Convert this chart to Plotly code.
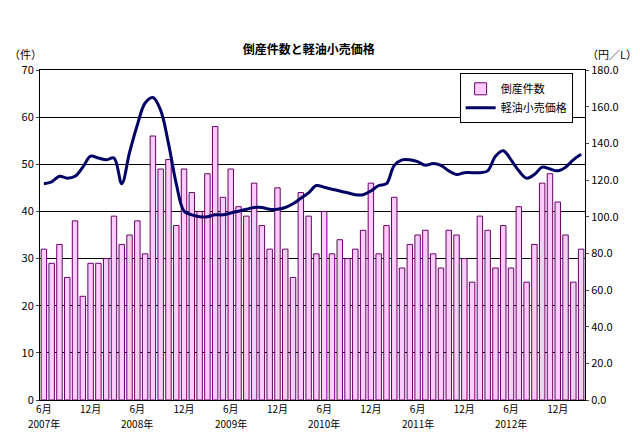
import plotly.graph_objects as go

# monthly data, Jun 2007 - Mar 2013
bankruptcies = [32, 29, 33, 26, 38, 22, 29,
                29, 30, 39, 33, 35, 38, 31, 56, 49, 51, 37, 49,
                44, 40, 48, 58, 43, 49, 41, 39, 46, 37, 32, 45,
                32, 26, 44, 39, 31, 40, 31, 34, 30, 32, 36, 46,
                31, 37, 43, 28, 33, 35, 36, 31, 28, 36, 35, 30,
                25, 39, 36, 28, 37, 28, 41, 25, 33, 46, 48, 42,
                35, 25, 32]
diesel_price = [118, 119, 122, 121, 122, 127, 133,
                132, 131, 132, 118, 135, 150, 162, 165, 158, 140, 118, 103,
                101, 100, 100, 101, 101, 102, 103, 104, 105, 105, 104, 104,
                105, 107, 110, 113, 117, 116, 115, 114, 113, 112, 112, 114,
                117, 118, 128, 131, 131, 130, 128, 129, 128, 125, 123, 124,
                124, 124, 125, 133, 136, 131, 125, 121, 123, 127, 126, 125,
                127, 131, 134]
tick_idx = [0, 6, 12, 18, 24, 30, 36, 42, 48, 54, 60, 66]
tick_text = ["6月", "12月", "6月", "12月", "6月", "12月",
             "6月", "12月", "6月", "12月", "6月", "12月"]
year_idx = [0, 12, 24, 36, 48, 60]
year_text = ["2007年", "2008年", "2009年", "2010年", "2011年", "2012年"]

x = list(range(len(bankruptcies)))
font = "Noto Sans CJK JP"

fig = go.Figure()
fig.add_trace(go.Bar(x=x, y=bankruptcies, name="倒産件数",
                     marker=dict(color="#ffccff", line=dict(color="#660066", width=1)),
                     width=0.7))
fig.add_trace(go.Scatter(x=x, y=diesel_price, name="軽油小売価格", yaxis="y2",
                         mode="lines", line=dict(color="#000066", width=3, shape="spline")))

fig.update_layout(
    width=640, height=442,
    paper_bgcolor="white", plot_bgcolor="white",
    margin=dict(l=32, r=63, t=62, b=50),
    font=dict(family=font, size=11, color="black"),
    title=dict(text="<b>倒産件数と軽油小売価格</b>", x=0.47, y=0.915, font=dict(size=12)),
    showlegend=True,
    legend=dict(x=0.77, y=0.99, xanchor="left", yanchor="top", bordercolor="black",
                borderwidth=1, bgcolor="white", font=dict(size=11)),
    xaxis=dict(range=[-0.5, len(x) - 0.5], tickvals=tick_idx, ticktext=tick_text,
               showline=True, linecolor="black", mirror=True, ticks="", tickangle=0,
               showgrid=False, automargin=False, tickfont=dict(size=10)),
    yaxis=dict(range=[0, 70], dtick=10, showline=True, linecolor="black",
               gridcolor="black", gridwidth=1, ticks="outside", ticklen=3, zeroline=False,
               automargin=False),
    yaxis2=dict(range=[0, 180], dtick=20, tickformat=".1f", overlaying="y", side="right",
                showline=True, linecolor="black", showgrid=False, ticks="outside", ticklen=3,
                automargin=False),
)
for xi, t in zip(year_idx, year_text):
    fig.add_annotation(text=t, x=xi, xref="x", y=0, yref="paper", yshift=-33,
                       showarrow=False, font=dict(size=10))
fig.add_annotation(text="（件）", xref="paper", yref="paper", x=-0.06, y=1.08,
                   showarrow=False, xanchor="left", font=dict(size=11))
fig.add_annotation(text="（円／L）", xref="paper", yref="paper", x=1.0, y=1.08,
                   showarrow=False, xanchor="left", font=dict(size=11))
fig.write_html("out.html")
